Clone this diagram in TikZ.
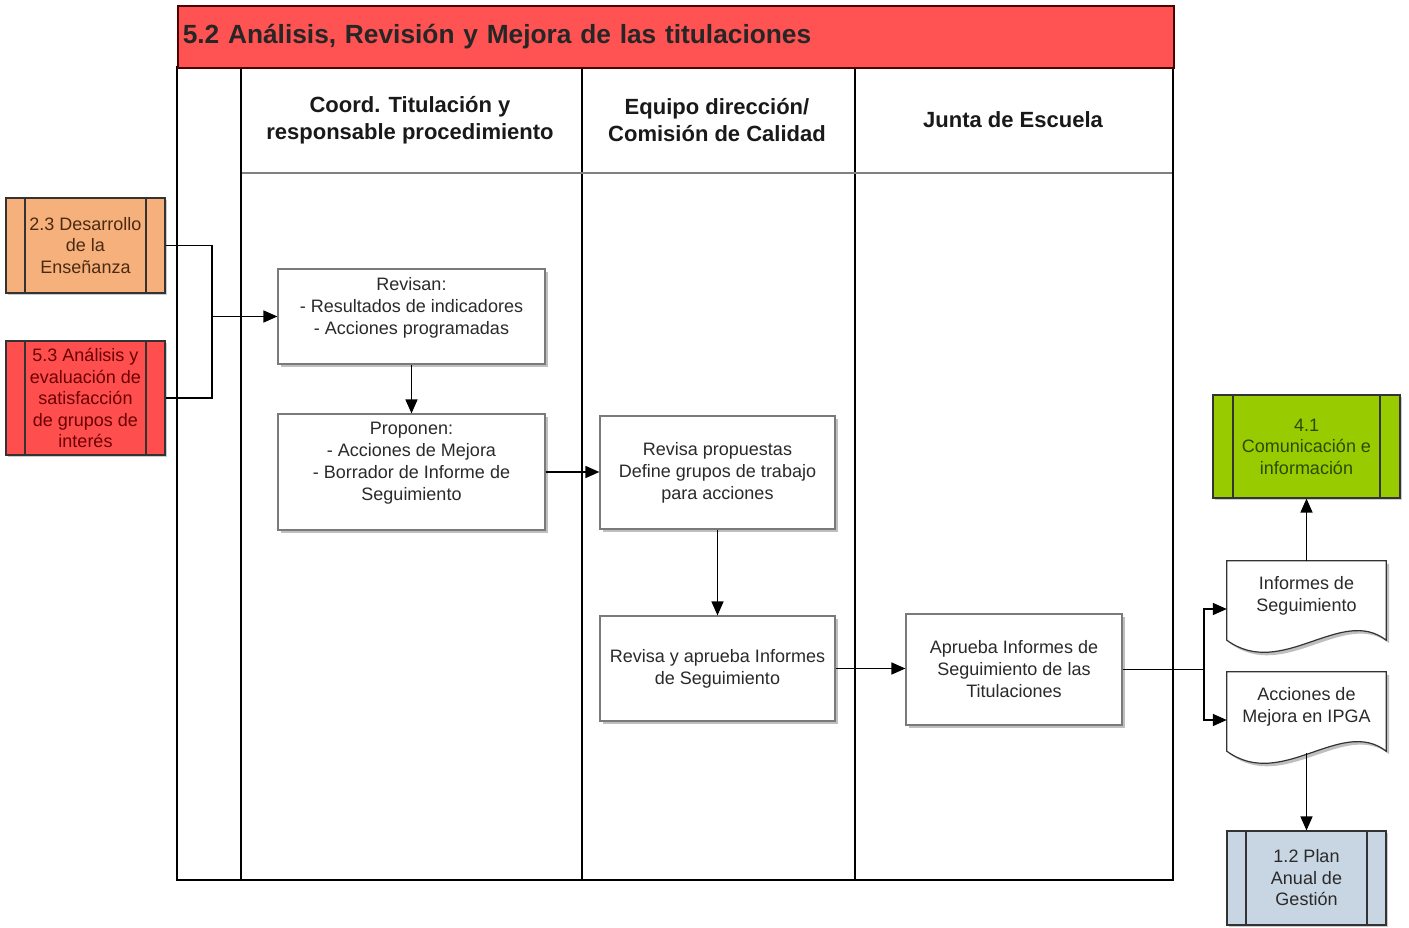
\documentclass[tikz,border=0pt]{standalone}
\usepackage{fontspec}
\setmainfont{Liberation Sans}
\usetikzlibrary{arrows.meta,shadows,calc}
\definecolor{titlered}{HTML}{FF5252}
\definecolor{orangebox}{HTML}{F6B07C}
\definecolor{redbox}{HTML}{FF4E4E}
\definecolor{greenbox}{HTML}{99CC00}
\definecolor{bluebox}{HTML}{C8D6E4}
\definecolor{boxline}{HTML}{7A7A7A}
\definecolor{browntext}{HTML}{4A2A10}
\definecolor{redtext}{HTML}{6B0000}
\definecolor{greentext}{HTML}{2E4A00}
\definecolor{graytext}{HTML}{2A2A2A}
\newcommand\mydocshape[1]{%
  \draw[draw=black!80, line width=1.2pt, fill=white,
        drop shadow={shadow xshift=3pt,shadow yshift=-3pt,opacity=0.25,fill=black}]
    (#1.north west) -- (#1.north east) -- ([yshift=17pt]#1.south east)
    .. controls ([xshift=-45pt,yshift=52pt]#1.south east) and ([xshift=55pt,yshift=-23pt]#1.south west) ..
    ([yshift=17pt]#1.south west) -- cycle;}
\begin{document}
\begin{tikzpicture}[x=1pt,y=-1pt,
  every node/.style={font=\fontsize{18}{22}\selectfont, align=center, inner sep=0pt, text=graytext},
  procbox/.style={draw=boxline, line width=1.2pt, fill=white,
     drop shadow={shadow xshift=3pt,shadow yshift=-3pt,opacity=0.25,fill=black}},
  subproc/.style={draw=black!80, line width=1.2pt, font=\fontsize{18}{21.5}\selectfont,
     drop shadow={shadow xshift=2pt,shadow yshift=-2pt,opacity=0.2,fill=black},
     path picture={\draw[line width=1.2pt, black!80]
       ([xshift=#1]path picture bounding box.north west) -- ([xshift=#1]path picture bounding box.south west)
       ([xshift=-#1]path picture bounding box.north east) -- ([xshift=-#1]path picture bounding box.south east);}},
  subproc/.default=19pt,
  docbox/.style={minimum width=159pt, minimum height=96pt},
  arr/.style={line width=1.6pt, -{Triangle[length=14pt,width=12pt]}},
  conn/.style={line width=1.6pt},
  lane/.style={line width=1.5pt, draw=black},
  header/.style={font=\bfseries\fontsize{22}{27}\selectfont, text=black!90},
]
\useasboundingbox (0,0) rectangle (1409,927);
\fill[white] (0,0) rectangle (1409,927);

% swimlane frame
\draw[lane] (177,67) rectangle (1173,880);
\draw[lane] (241,67) -- (241,880);
\draw[lane] (582,67) -- (582,880);
\draw[line width=2pt] (855,67) -- (855,880);
\draw[draw=gray, line width=2.5pt] (242,173) -- (1172,173);

% title bar
\node[draw=black!70!red, line width=1.5pt, fill=titlered, anchor=north west,
      minimum width=996pt, minimum height=62pt, text width=986pt, inner xsep=5pt,
      align=left, font=\bfseries\fontsize{26.3}{30}\selectfont, text=black!85] (title) at (177,5)
      {5.2 Análisis, Revisión y Mejora de las titulaciones};

% lane headers
\node[header] (h1) at (410,120) {Coord. Titulación y\\responsable procedimiento};
\node[header] (h2) at (717,120) {Equipo dirección/\\Comisión de Calidad};
\node[header] (h3) at (1013,120) {Junta de Escuela};

% external processes
\node[subproc, fill=orangebox, text=browntext, minimum width=159pt, minimum height=95pt] (d23) at (85.5,245.5)
  {2.3 Desarrollo\\de la\\Enseñanza};
\node[subproc, fill=redbox, text=redtext, minimum width=159pt, minimum height=114pt] (a53) at (85.5,398)
  {5.3 Análisis y\\evaluación de\\satisfacción\\de grupos de\\interés};
\node[subproc=20pt, fill=greenbox, text=greentext, minimum width=187pt, minimum height=103pt] (c41) at (1306.5,446.5)
  {4.1\\Comunicación e\\información};
\node[subproc, fill=bluebox, text=graytext, minimum width=159pt, minimum height=94pt] (p12) at (1306.5,878)
  {1.2 Plan\\Anual de\\Gestión};

% process boxes
\node[procbox, minimum width=267pt, minimum height=95pt] (rev) at (411.5,316.5)
  {Revisan:\\- Resultados de indicadores\\- Acciones programadas\\~};
\node[procbox, minimum width=267pt, minimum height=116pt] (pro) at (411.5,472)
  {Proponen:\\- Acciones de Mejora\\- Borrador de Informe de\\Seguimiento\\~};
\node[procbox, minimum width=235pt, minimum height=113pt] (rp) at (717.5,472.5)
  {Revisa propuestas\\Define grupos de trabajo\\para acciones};
\node[procbox, minimum width=235pt, minimum height=105pt] (ra) at (717.5,668.5)
  {Revisa y aprueba Informes\\de Seguimiento};
\node[procbox, minimum width=216pt, minimum height=111pt] (apr) at (1014,669.5)
  {Aprueba Informes de\\Seguimiento de las\\Titulaciones};

% documents
\node[docbox] (inf) at (1306.5,609) {};
\mydocshape{inf}
\node (inft) at ([yshift=13pt]inf.center) {Informes de\\Seguimiento};
\node[docbox] (acc) at (1306.5,720) {};
\mydocshape{acc}
\node (acct) at ([yshift=13pt]acc.center) {Acciones de\\Mejora en IPGA};

% connectors
\coordinate (j) at (212,316.5);
\draw[conn] (d23.east) -| (j);
\draw[conn] (a53.east) -| (j);
\draw[arr] (j) -- (rev.west);
\draw[arr] (rev.south) -- (pro.north);
\draw[arr] (pro.east) -- (rp.west |- pro.east);
\draw[arr] (rp.south) -- (ra.north);
\draw[arr] (ra.east) -- (apr.west |- ra.east);
\coordinate (s) at (1204,669.5);
\draw[conn] (apr.east) -- (s);
\draw[arr] (s) |- (inf.west);
\draw[arr] (s) |- (acc.west);
\draw[arr] (inf.north) -- (c41.south);
\draw[arr] ([yshift=15pt]acc.south) -- (p12.north);
\end{tikzpicture}
\end{document}
